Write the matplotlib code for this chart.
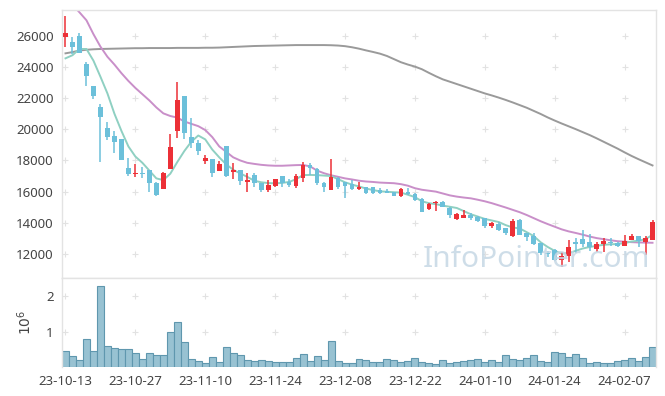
import matplotlib
matplotlib.use("Agg")
import matplotlib.pyplot as plt
import numpy as np

# trading-day tick labels (every 10 bars)
tick_labels = ["23-10-13", "23-10-27", "23-11-10", "23-11-24", "23-12-08",
               "23-12-22", "24-01-10", "24-01-24", "24-02-07"]

opens = [25950, 25600, 25980, 24170, 22770, 21400, 20080, 19570, 19350, 17530,
         17100, 17180, 17360, 16530, 16200, 17450, 19910, 22130, 19480, 19100,
         17990, 18070, 17340, 18920, 17280, 17380, 16640, 17060, 16570, 16100,
         16380, 17000, 16640, 16360, 16890, 17700, 17430, 16530, 16100, 16890,
         16620, 16510, 16170, 16280, 16280, 16100, 16060, 15970, 15740, 15960,
         15850, 15550, 14870, 15250, 15310, 14930, 14240, 14290, 14500, 14350,
         14290, 13810, 13920, 13640, 13170, 14180, 13320, 13150, 12680, 12080,
         12250, 11610, 11870, 12790, 12960, 12750, 12320, 12640, 12790, 12720,
         12530, 12920, 13150, 12770, 12900]
highs = [27250, 25900, 26150, 24330, 22770, 21600, 20480, 19910, 19400, 18140,
         17750, 17600, 17360, 16640, 17280, 19670, 23050, 22130, 20700, 19310,
         18350, 18070, 17980, 18920, 17810, 17380, 17170, 17210, 16570, 16740,
         16810, 17000, 16810, 17130, 17880, 17810, 17490, 16640, 18070, 16960,
         16620, 16740, 16600, 16280, 16320, 16210, 16150, 16000, 16210, 16210,
         15930, 15570, 15290, 15400, 15400, 15030, 14610, 14820, 14610, 14460,
         14330, 14070, 14030, 13640, 14240, 14240, 13360, 13320, 12720, 12200,
         12300, 12150, 12900, 13000, 13510, 13260, 12790, 13000, 13000, 12790,
         13250, 13260, 13150, 13150, 14190]
lows = [25300, 24850, 24870, 22770, 21940, 17880, 19310, 18500, 18000, 17020,
        16960, 16850, 16000, 15720, 16190, 17450, 19420, 19350, 18780, 18350,
        17800, 16960, 17340, 16960, 16790, 16440, 16000, 16300, 16000, 15990,
        16320, 16320, 16320, 16210, 16640, 17060, 16440, 16000, 16100, 16150,
        15570, 16100, 16100, 15850, 15850, 15850, 15880, 15700, 15680, 15780,
        15420, 14670, 14840, 14760, 14990, 14330, 14160, 14290, 14160, 14030,
        13640, 13640, 13470, 13250, 13070, 13220, 12860, 12580, 11930, 11830,
        11540, 11190, 11500, 12080, 12480, 12200, 12150, 12150, 12530, 12470,
        12530, 12880, 12470, 11940, 12900]
closes = [26150, 25250, 24900, 23430, 22150, 20770, 19520, 19200, 18030, 17150,
          17200, 17120, 16530, 15780, 17200, 18880, 21870, 19740, 19100, 18620,
          18150, 17170, 17770, 17020, 17380, 16690, 16750, 16530, 16100, 16450,
          16790, 16530, 16420, 17000, 17700, 17490, 16530, 16310, 16960, 16310,
          16380, 16170, 16320, 15890, 15930, 15930, 15930, 15740, 16150, 15830,
          15460, 14710, 15200, 15350, 14990, 14500, 14550, 14500, 14290, 14130,
          13810, 14000, 13540, 13320, 14130, 13220, 13070, 12640, 12040, 11970,
          11610, 11870, 12430, 12640, 12620, 12470, 12640, 12850, 12700, 12530,
          12850, 13150, 12850, 13020, 14040]

# volume, in millions of shares
volumes = [0.46, 0.32, 0.21, 0.79, 0.46, 2.28, 0.60, 0.54, 0.51, 0.51,
           0.39, 0.23, 0.39, 0.34, 0.34, 0.98, 1.26, 0.70, 0.23, 0.18,
           0.11, 0.28, 0.15, 0.56, 0.39, 0.34, 0.21, 0.18, 0.21, 0.18,
           0.15, 0.15, 0.15, 0.25, 0.36, 0.18, 0.31, 0.21, 0.74, 0.18,
           0.11, 0.11, 0.23, 0.21, 0.15, 0.15, 0.23, 0.21, 0.15, 0.18,
           0.25, 0.15, 0.11, 0.08, 0.21, 0.12, 0.15, 0.18, 0.21, 0.23,
           0.15, 0.21, 0.15, 0.34, 0.23, 0.21, 0.25, 0.34, 0.18, 0.15,
           0.43, 0.39, 0.28, 0.36, 0.25, 0.12, 0.15, 0.12, 0.12, 0.18,
           0.21, 0.25, 0.18, 0.28, 0.56]

ma5 = [24550, 24750, 25150, 25150, 24400, 23370, 22300, 21000, 19900, 18900,
       18250, 17850, 17350, 16850, 16740, 17150, 17900, 18600, 19200, 19600,
       19350, 18700, 18200, 17750, 17400, 17170, 16950, 16700, 16600, 16550,
       16530, 16560, 16620, 16800, 17060, 17070, 17060, 17030, 17000, 16800,
       16600, 16450, 16330, 16200, 16100, 16020, 15990, 15960, 15940, 15800,
       15650, 15380, 15260, 15200, 15100, 15030, 14950, 14750, 14550, 14400,
       14250, 14150, 14050, 13850, 13700, 13640, 13400, 13150, 12750, 12450,
       12200, 12030, 12050, 12200, 12350, 12450, 12520, 12590, 12620, 12640,
       12700, 12800, 12850, 12950, 13230]
ma20 = [28500, 28000, 27500, 26990, 26100, 25300, 24650, 24150, 23600, 23100,
        22650, 22250, 21850, 21400, 21020, 20850, 20750, 20500, 20350, 20200,
        19950, 19500, 18900, 18550, 18200, 18000, 17850, 17780, 17720, 17680,
        17660, 17660, 17680, 17700, 17710, 17620, 17350, 17180, 17050, 16950,
        16850, 16780, 16700, 16650, 16620, 16580, 16560, 16540, 16480, 16380,
        16220, 16120, 16060, 16000, 15880, 15760, 15680, 15620, 15570, 15480,
        15380, 15260, 15120, 14980, 14830, 14680, 14500, 14300, 14100, 13920,
        13750, 13580, 13450, 13350, 13240, 13120, 13020, 12950, 12880, 12820,
        12790, 12760, 12740, 12730, 12720]
ma120 = [24870, 24950, 25050, 25100, 25130, 25150, 25160, 25170, 25180, 25190,
         25200, 25200, 25210, 25210, 25210, 25210, 25220, 25220, 25220, 25220,
         25230, 25230, 25240, 25260, 25280, 25300, 25320, 25340, 25350, 25360,
         25370, 25380, 25390, 25400, 25400, 25400, 25400, 25400, 25390, 25370,
         25330, 25260, 25170, 25060, 24960, 24850, 24700, 24500, 24300, 24150,
         24020, 23850, 23620, 23400, 23200, 23050, 22900, 22750, 22600, 22450,
         22300, 22170, 22030, 21880, 21720, 21550, 21380, 21180, 20980, 20760,
         20560, 20370, 20190, 20010, 19820, 19630, 19420, 19200, 18980, 18760,
         18520, 18290, 18080, 17880, 17680]

UP = "#ec3037"
DOWN = "#6cc0da"
GRID = "#e2e2e2"
TEXT = "#444444"

plt.rcParams['font.family'] = ['Noto Sans', 'DejaVu Sans']

x = np.arange(len(closes))
o = np.array(opens)
c = np.array(closes)
colors = [UP if cc >= oo else DOWN for oo, cc in zip(o, c)]

fig = plt.figure(figsize=(6.65, 3.96), dpi=100)
ax = fig.add_axes([62 / 665, 1 - 278 / 396, 594 / 665, 268 / 396])
axv = fig.add_axes([62 / 665, 1 - 367 / 396, 594 / 665, 89 / 396], sharex=ax)

# moving averages
ax.plot(x, ma120, color="#9a9a9a", lw=1.4, zorder=2)
ax.plot(x, ma20, color="#c98fc9", lw=1.4, zorder=2)
ax.plot(x, ma5, color="#8fd0c2", lw=1.4, zorder=2)

# candles
ax.vlines(x, lows, highs, colors=colors, lw=1.1, zorder=3)
body_h = np.maximum(np.abs(c - o), 60)
ax.bar(x, body_h, bottom=np.minimum(o, c), width=0.68, color=colors, zorder=4)

ax.set_xlim(-0.5, 84.5)
ax.set_ylim(10460, 27650)
yt = np.arange(12000, 26001, 2000)
ax.set_yticks(yt)
ax.set_yticklabels([str(v) for v in yt])
xt = np.arange(0, 81, 10)

# "+" grid marks at tick intersections
gx, gy = np.meshgrid(xt, yt)
ax.scatter(gx.ravel(), gy.ravel(), marker="+", s=14, color=GRID, lw=0.8, zorder=1)

ax.text(83.6, 11150, "InfoPointer.com", ha="right", va="baseline",
        fontsize=21.5, color="#c6d8e5", alpha=0.85, zorder=5)

# volume
axv.bar(x, volumes, width=1.0, color="#98c2d2", edgecolor="#5f97ae", lw=0.8)
axv.set_ylim(0, 2.51)
axv.set_yticks([1, 2])
axv.set_yticklabels(["1", "2"])
axv.set_ylabel("$10^6$", color=TEXT, fontsize=10, labelpad=8)
gx2, gy2 = np.meshgrid(xt, [1, 2])
axv.scatter(gx2.ravel(), gy2.ravel(), marker="+", s=14, color=GRID, lw=0.8, zorder=0)
axv.set_xticks(xt)
axv.set_xticklabels(tick_labels)

for a in (ax, axv):
    for s in a.spines.values():
        s.set_color("#e3e3e3")
        s.set_linewidth(1.0)
    a.tick_params(length=0, labelsize=9.5, colors=TEXT, pad=6)
ax.tick_params(labelbottom=False)
axv.spines["bottom"].set_visible(False)

fig.savefig("out.png", dpi=100)
